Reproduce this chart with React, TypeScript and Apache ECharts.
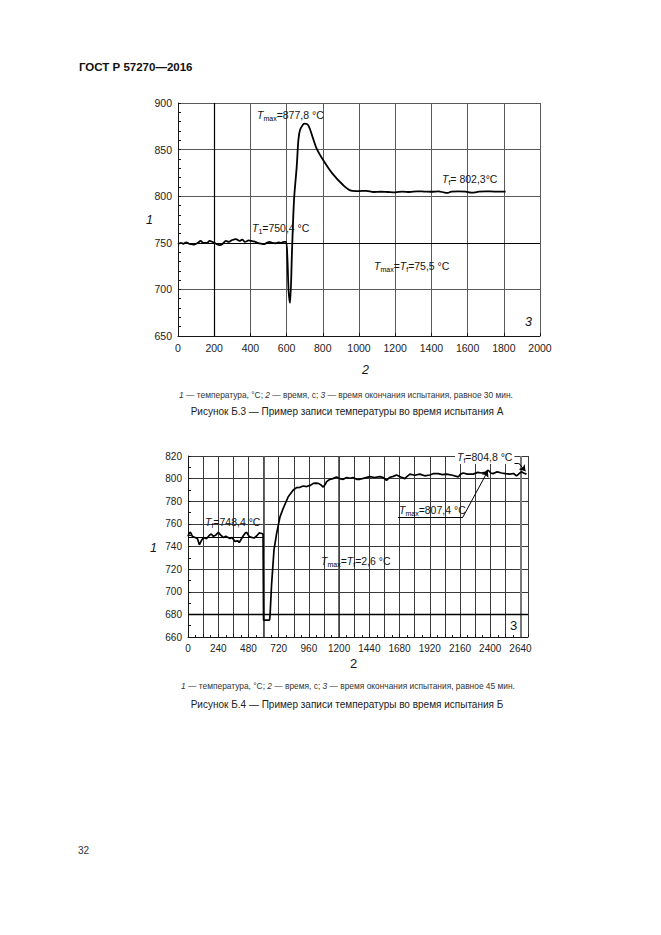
import React, { useEffect, useRef } from "react";
import * as echarts from "echarts";

// ---------- Data: chart Б.3 ----------
const topTime = [0, 15, 30, 45, 60, 75, 90, 110, 125, 140, 160, 175, 190, 210, 230, 245, 265, 280, 300, 320, 340, 355, 370, 390, 405, 420, 440, 460, 475, 490, 505, 520, 540, 555, 570, 585, 597, 604, 611, 619, 630, 641, 656, 665, 674, 691, 700, 720, 746, 766, 801, 850, 912, 956, 1000, 1040, 1080, 1120, 1160, 1200, 1240, 1280, 1320, 1360, 1400, 1440, 1470, 1490, 1510, 1550, 1590, 1620, 1640, 1660, 1700, 1750, 1810];
const topTemp = [748.5, 750, 749, 750.5, 749, 748.5, 748, 750, 752, 750, 750, 752, 751, 749, 747.5, 748.5, 752, 751, 753, 754, 752, 753.5, 751, 752.5, 752, 751.5, 750, 749, 748.5, 750, 751, 750, 749.5, 750.5, 750, 751, 751, 735, 699, 685.5, 742, 796, 832, 860, 871, 877, 877.8, 876, 862, 851, 839, 825, 812, 806, 805.5, 805.8, 804.5, 804.8, 804.5, 804.2, 805, 804.5, 805.2, 805, 804.8, 805.2, 804, 803.5, 805, 805.2, 804.8, 803.8, 804, 805, 805.2, 805, 805];

// ---------- Data: chart Б.4 ----------
const botTime = [0, 10, 20, 35, 56, 75, 90, 105, 122, 148, 170, 185, 201, 220, 241, 260, 280, 300, 333, 350, 373, 395, 407, 420, 439, 455, 466, 485, 505, 525, 545, 565, 585, 596, 600, 648, 652, 664, 683, 704, 730, 757, 796, 836, 862, 889, 915, 942, 970, 995, 1015, 1034, 1055, 1074, 1090, 1101, 1127, 1150, 1180, 1205, 1233, 1260, 1286, 1310, 1339, 1365, 1400, 1444, 1480, 1524, 1550, 1577, 1600, 1630, 1656, 1690, 1722, 1740, 1762, 1800, 1841, 1880, 1921, 1950, 1987, 2020, 2053, 2100, 2146, 2165, 2185, 2220, 2265, 2300, 2331, 2360, 2384, 2405, 2423, 2455, 2490, 2520, 2556, 2585, 2609, 2630, 2648, 2665, 2688];
const botTemp = [749, 752, 752.5, 749, 748, 747, 741.5, 745, 748, 747, 750, 751, 749, 750, 752.5, 750, 748, 749, 747, 748, 744.5, 745, 743.5, 746, 749.5, 752, 752.5, 749, 748, 747.5, 749.3, 752, 751.5, 751, 675, 675, 680, 707, 737, 751.6, 766, 774, 784, 790, 792, 792.3, 793.5, 793, 794, 795.8, 796, 795.8, 794.5, 792.5, 795, 797.3, 799.4, 800, 801.5, 800, 799.4, 801, 800.3, 801, 799.4, 799.4, 800.5, 801.8, 801, 801.8, 801, 798.5, 801, 802, 803.2, 801.5, 800, 802, 804, 803, 804, 802.5, 803.2, 804.5, 804.4, 803.5, 804, 803, 801.5, 804, 805, 804, 804, 805.5, 805, 805.5, 807.4, 805, 804.4, 806, 805, 804.5, 804, 804.5, 802.4, 804.5, 806, 805, 804];

// ---------- Axis ranges / tick settings ----------
const topX = { min: 0, max: 2000, interval: 200 };
const topY = { min: 650, max: 900, interval: 50 };
const botX = { min: 0, max: 2700, interval: 120, labelStep: 240, labelMax: 2640 };
const botY = { min: 660, max: 820, interval: 20 };

// ---------- Texts ----------
const header = "ГОСТ Р 57270—2016";
const pageNo = "32";
const caption3 = "{i|1} — температура, °C; {i|2} — время, с; {i|3} — время окончания испытания, равное 30 мин.";
const title3 = "Рисунок Б.3 — Пример записи температуры во время испытания А";
const caption4 = "{i|1} — температура, °C; {i|2} — время, с; {i|3} — время окончания испытания, равное 45 мин.";
const title4 = "Рисунок Б.4 — Пример записи температуры во время испытания Б";

const F = '"Liberation Sans", Arial, Helvetica, sans-serif';
const INK = "#161616";

const annRich = {
  t: { fontFamily: F, fontSize: 10.5, fontStyle: "italic", lineHeight: 14, fill: INK },
  s: { fontFamily: F, fontSize: 7, lineHeight: 8, verticalAlign: "bottom", fill: "#000" },
  n: { fontFamily: F, fontSize: 10.5, lineHeight: 14, fill: INK },
};

function ann(x: number, y: number, text: string, bg?: string) {
  const style: any = { text, rich: annRich, verticalAlign: "middle", align: "left", fill: INK };
  if (bg) {
    style.backgroundColor = bg;
    style.padding = [0, 2, 0, 2];
  }
  return { type: "text", x, y, silent: true, z: 100, style };
}

function plain(x: number, y: number, text: string, opts: any = {}) {
  return {
    type: "text",
    x,
    y,
    silent: true,
    style: {
      text,
      fontFamily: F,
      fontSize: opts.fontSize ?? 10,
      fontWeight: opts.fontWeight ?? "normal",
      fontStyle: opts.fontStyle ?? "normal",
      fill: opts.fill ?? INK,
      align: opts.align ?? "left",
      verticalAlign: "middle",
      rich: opts.rich,
    },
  };
}

const capRich = {
  i: { fontFamily: F, fontSize: 8.4, fontStyle: "italic", fill: "#333" },
};

function axisCommon() {
  return {
    axisLine: { show: true, onZero: false, lineStyle: { color: INK, width: 1 } },
    axisTick: { show: true, inside: true, length: 3, lineStyle: { color: INK } },
    axisLabel: { fontFamily: F, fontSize: 10.5, color: "#222", margin: 6, formatter: (v: number) => String(v) },
    splitLine: { show: true, lineStyle: { color: "#5a5a5a", width: 1 } },
  };
}

export default function App() {
  const ref = useRef<HTMLDivElement>(null);
  useEffect(() => {
    if (!ref.current) return;
    const chart = echarts.init(ref.current, undefined, { renderer: "svg" });
    const topData = topTime.map((t, i) => [t, topTemp[i]]);
    const botData = botTime.map((t, i) => [t, botTemp[i]]);
    const c = axisCommon();
    const option: any = {
      animation: false,
      backgroundColor: "#fff",
      grid: [
        { left: 178, top: 103, width: 362, height: 233 },
        { left: 188, top: 456, width: 340, height: 181 },
      ],
      xAxis: [
        {
          gridIndex: 0,
          type: "value",
          ...topX,
          ...c,
        },
        {
          gridIndex: 1,
          type: "value",
          min: botX.min,
          max: botX.max,
          interval: botX.interval,
          ...c,
          axisLabel: {
            ...c.axisLabel,
            fontSize: 10,
            formatter: (v: number) => (v % botX.labelStep === 0 && v <= botX.labelMax ? String(v) : ""),
          },
          minorTick: { show: true, splitNumber: 2, length: 2, lineStyle: { color: INK } },
          splitLine: { show: true, lineStyle: { color: "#3a3a3a", width: 1 } },
        },
      ],
      yAxis: [
        {
          gridIndex: 0,
          type: "value",
          ...topY,
          ...c,
          minorTick: { show: true, splitNumber: 5, length: 3, lineStyle: { color: INK } },
        },
        {
          gridIndex: 1,
          type: "value",
          ...botY,
          ...c,
          axisLabel: { ...c.axisLabel, fontSize: 10 },
          minorTick: { show: true, splitNumber: 2, length: 3, lineStyle: { color: INK } },
          splitLine: { show: true, lineStyle: { color: "#3a3a3a", width: 1 } },
        },
      ],
      series: [
        {
          type: "line",
          xAxisIndex: 0,
          yAxisIndex: 0,
          data: topData,
          showSymbol: false,
          smooth: 0.3,
          lineStyle: { color: "#000", width: 1.8 },
          z: 5,
          markLine: {
            silent: true,
            symbol: ["none", "none"],
            label: { show: false },
            lineStyle: { color: "#000", width: 1.2, type: "solid" },
            data: [{ yAxis: 750 }, { xAxis: 200 }],
          },
        },
        {
          type: "line",
          xAxisIndex: 1,
          yAxisIndex: 1,
          data: botData,
          showSymbol: false,
          lineStyle: { color: "#000", width: 1.7 },
          z: 5,
          markLine: {
            silent: true,
            symbol: ["none", "none"],
            symbolSize: 6,
            label: { show: false },
            lineStyle: { color: "#000", width: 1, type: "solid" },
            data: [
              [{ coord: [0, 748.4] }, { coord: [596, 748.4] }],
              [{ coord: [600, 660], lineStyle: { color: "#555", width: 1.8 } }, { coord: [600, 820] }],
              [{ coord: [1200, 660], lineStyle: { color: "#444", width: 1.6 } }, { coord: [1200, 820] }],
              [{ coord: [2640, 660], lineStyle: { color: "#777", width: 2 } }, { coord: [2640, 820] }],
              [{ coord: [0, 680], lineStyle: { color: "#000", width: 1.3 } }, { coord: [2700, 680] }],
              [{ coord: [1667, 766] }, { coord: [2183, 766] }],
              [{ coord: [2183, 766] }, { coord: [2381, 806.8], symbol: "arrow" }],
              [{ coord: [2143, 813.8] }, { coord: [2625, 813.8] }],
              [{ coord: [2625, 813.8] }, { coord: [2680, 806.5], symbol: "arrow" }],
            ],
          },
        },
      ],
      graphic: [
        plain(79, 67, header, { fontSize: 11.5, fontWeight: "bold", fill: "#111" }),
        // Chart Б.3 annotations
        ann(257, 115, "{t|T}{s|max}{n|=877,8 °C}"),
        ann(252, 228, "{t|T}{s|1}{n|=750,4 °C}"),
        ann(442, 179, "{t|T}{s|f}{n|= 802,3°C}"),
        ann(374, 266, "{t|T}{s|max}{n|=}{t|T}{s|f}{n|=75,5 °C}"),
        plain(146, 220, "1", { fontSize: 12.5, fontStyle: "italic" }),
        plain(362, 370, "2", { fontSize: 12.5, fontStyle: "italic" }),
        plain(525, 322, "3", { fontSize: 12.5, fontStyle: "italic" }),
        plain(346, 395, caption3, { fontSize: 8.4, fill: "#333", align: "center", rich: capRich }),
        plain(347, 411, title3, { fontSize: 10, fill: "#222", align: "center" }),
        // Chart Б.4 annotations
        ann(205, 522, "{t|T}{s|f}{n|=748,4 °C}"),
        ann(321, 561, "{t|T}{s|max}{n|=}{t|T}{s|f}{n|=2,6 °C}"),
        ann(455, 457, "{t|T}{s|f}{n|=804,8 °C}", "#fff"),
        ann(399, 510, "{t|T}{s|max}{n|=807,4 °C}"),
        plain(150, 548, "1", { fontSize: 12.5, fontStyle: "italic" }),
        plain(350, 663, "2", { fontSize: 13 }),
        plain(510, 625, "3", { fontSize: 13 }),
        plain(348, 686, caption4, { fontSize: 8.4, fill: "#333", align: "center", rich: capRich }),
        plain(347, 704, title4, { fontSize: 10, fill: "#222", align: "center" }),
        plain(78, 850, pageNo, { fontSize: 10, fill: "#333" }),
      ],
    };
    chart.setOption(option);
    return () => chart.dispose();
  }, []);
  return (
    <div
      ref={ref}
      style={{ position: "absolute", left: 0, top: 0, width: 661, height: 935, background: "#fff" }}
    />
  );
}
